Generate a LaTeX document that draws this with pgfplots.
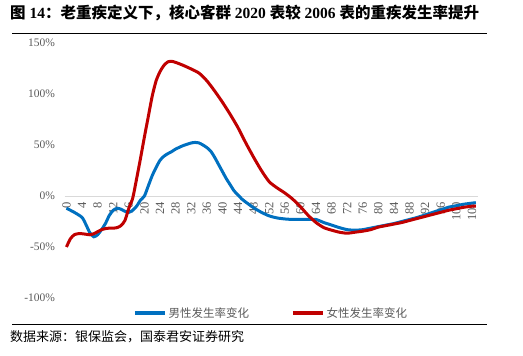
\documentclass[border=0pt]{standalone}
\usepackage{fontspec}
\setmainfont{Liberation Serif}
\newfontfamily\cjk{Noto Sans CJK SC}
\usepackage{pgfplots}
\pgfplotsset{compat=1.18}
\definecolor{mblue}{RGB}{0,112,192}
\definecolor{fred}{RGB}{192,0,0}
\definecolor{lgray}{RGB}{217,217,217}
\definecolor{tgray}{RGB}{89,89,89}
\begin{document}
\begin{tikzpicture}
\path (0,0) rectangle (523pt,356pt);
% title
\node[anchor=west, inner sep=0pt] at (10pt,343pt) {\fontsize{15.5}{17}\selectfont\bfseries{\cjk 图} 14{\cjk ：老重疾定义下，核心客群} 2020 {\cjk 表较} 2006 {\cjk 表的重疾发生率提升}};
\draw[black, line width=1pt] (12pt,322pt) -- (487pt,322pt);
\draw[black, line width=1pt] (12pt,31pt) -- (487pt,31pt);
\node[anchor=west, inner sep=0pt] at (10pt,19pt) {\fontsize{13}{15}\selectfont\cjk 数据来源：银保监会，国泰君安证券研究};
\begin{axis}[
  set layers,
  at={(64.5pt,58pt)}, anchor=south west,
  scale only axis, width=413.3pt, height=255pt,
  xmin=-0.5, xmax=105.5, ymin=-100, ymax=150,
  axis x line=middle, axis y line=left,
  axis line style={-},
  x axis line style={draw=lgray, line width=0.8pt},
  y axis line style={draw=none},
  hide obscured x ticks=false, hide obscured y ticks=false,
  major tick length=0pt,
  tick style={draw=none},
  xtick={0,4,...,104},
  ytick={-100,-50,0,50,100,150},
  yticklabels={-100\%,-50\%,0\%,50\%,100\%,150\%},
  /pgf/number format/assume math mode=true,
  xticklabel style={yshift=-6pt, rotate=90, anchor=east, font=\fontsize{12.5}{13}\selectfont, text=tgray, inner sep=0pt},
  yticklabel style={font=\fontsize{11.5}{12}\selectfont, text=tgray, xshift=-6pt},
  legend style={at={(0.5,-0.0588)}, anchor=center, draw=none, fill=none,
    font=\fontsize{11.5}{13}\selectfont\cjk, text=tgray,
    /tikz/every even column/.append style={column sep=40pt}},
  legend columns=2,
  legend image code/.code={\draw[#1, line width=3.5pt] (0pt,0pt) -- (30pt,0pt);},
]
\addplot[mblue, line width=3pt, smooth, tension=0.4] coordinates {
(0,-12) (2,-16) (4,-21) (5,-28) (6,-36) (7,-40) (8,-38) (9,-33) (10,-27) (11,-19)
(12,-14) (13,-12) (14,-13) (15,-15) (16,-16) (17,-14) (18,-10) (19,-4) (20,0)
(21,10) (22,20) (23,28) (24,35) (25,39) (26,41.5) (27,43.5) (28,46) (30,49.5)
(32,52) (33,52.5) (34,52) (35,50) (36,47.5) (37,44) (38,38) (39,31) (40,24)
(41,17) (42,11) (43,5) (44,1) (45,-3) (46,-6) (48,-11.5) (50,-16) (52,-19.5)
(54,-21.5) (56,-22.5) (58,-23) (60,-23) (62,-23) (64,-23) (66,-26) (68,-28.5)
(70,-31) (72,-33) (74,-33.5) (76,-33) (78,-31.5) (80,-30) (82,-28.5) (84,-27)
(86,-25) (88,-23) (90,-21) (92,-18.5) (94,-16) (96,-13.5) (98,-11) (100,-9.5)
(102,-8) (104,-7) (105,-6.5)
};
\addlegendentry{男性发生率变化}
\addplot[fred, line width=3pt, smooth, tension=0.4] coordinates {
(0,-50) (1,-42) (2,-38) (3,-37) (4,-37) (5,-37.5) (6,-38) (7,-37) (8,-35) (9,-33)
(10,-32) (11,-31.5) (12,-31.5) (13,-31) (14,-29) (15,-24) (16,-12) (17,-2)
(18,17) (19,37) (20,58) (21,78) (22,98) (23,113) (24,122) (25,128) (26,131.5)
(27,132) (28,131) (30,128) (32,124.5) (34,120.5) (36,113) (38,103) (40,92)
(42,80) (44,67) (46,52) (48,38) (50,25) (52,14) (54,8) (56,3) (58,-3)
(60,-10.5) (62,-19) (64,-26) (66,-31) (68,-33.5) (70,-35.5) (72,-36.5)
(74,-35.5) (76,-34.5) (78,-33) (80,-30.5) (82,-29) (84,-27.5) (86,-26)
(88,-24) (90,-22) (92,-20) (94,-18) (96,-16) (98,-14) (100,-12.5) (102,-11)
(104,-10) (105,-10)
};
\addlegendentry{女性发生率变化}
\end{axis}
\end{tikzpicture}
\end{document}
